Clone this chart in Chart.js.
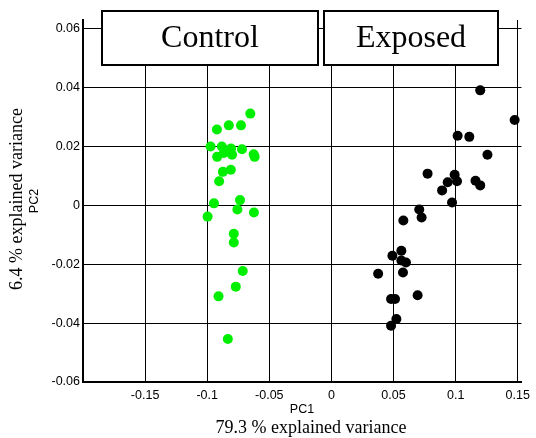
<!DOCTYPE html>
<html>
<head>
<meta charset="utf-8">
<script src="https://cdn.jsdelivr.net/npm/chart.js@4/dist/chart.umd.min.js"></script>
<style>
  html, body { margin: 0; padding: 0; background: #ffffff; }
  #wrap { width: 536px; height: 438px; }
</style>
</head>
<body>
<div id="wrap"><canvas id="pcaplot"></canvas></div>
<script>
// scores (PC1, PC2)
const controlPC1 = [-0.0653, -0.0922, -0.0826, -0.0728, -0.0973, -0.0882, -0.0808, -0.0720,
  -0.0920, -0.0866, -0.0800, -0.0626, -0.0618, -0.0874, -0.0810, -0.0904, -0.0946, -0.0736,
  -0.0757, -0.0624, -0.0997, -0.0786, -0.0786, -0.0714, -0.0770, -0.0909, -0.0834];
const controlPC2 = [0.0312, 0.0258, 0.0272, 0.0272, 0.0200, 0.0200, 0.0193, 0.0191,
  0.0165, 0.0178, 0.0172, 0.0174, 0.0165, 0.0114, 0.0121, 0.0082, 0.0007, 0.0018,
  -0.0014, -0.0024, -0.0038, -0.0096, -0.0126, -0.0223, -0.0276, -0.0309, -0.0454];

const exposedPC1 = [0.1198, 0.1475, 0.1016, 0.1110, 0.1256, 0.0774, 0.0992, 0.1011, 0.0936,
  0.1160, 0.1198, 0.0891, 0.0971, 0.0707, 0.0726, 0.0579, 0.0563, 0.0491, 0.0563, 0.0600,
  0.0376, 0.0576, 0.0694, 0.0480, 0.0512, 0.0523, 0.0480];
const exposedPC2 = [0.0391, 0.0290, 0.0237, 0.0233, 0.0172, 0.0108, 0.0104, 0.0082, 0.0079,
  0.0084, 0.0068, 0.0051, 0.0010, -0.0014, -0.0041, -0.0051, -0.0154, -0.0171, -0.0187, -0.0194,
  -0.0232, -0.0228, -0.0305, -0.0318, -0.0318, -0.0386, -0.0409];

const xTicks = [-0.15, -0.1, -0.05, 0, 0.05, 0.1, 0.15];
const yTicks = [-0.06, -0.04, -0.02, 0, 0.02, 0.04, 0.06];
const groupNames = ["Control", "Exposed"];

function toPoints(xs, ys) {
  return xs.map((x, i) => ({ x: x, y: ys[i] }));
}

// axis titles and the two group boxes on top
const decorations = {
  id: "decorations",
  afterDraw(chart) {
    const ctx = chart.ctx;
    ctx.save();
    ctx.fillStyle = "#000";
    ctx.textAlign = "center";
    ctx.textBaseline = "middle";

    ctx.font = "12.5px 'Liberation Sans', Arial, sans-serif";
    ctx.fillText("PC1", 302, 410);
    ctx.font = "18px 'Liberation Serif', 'Times New Roman', serif";
    ctx.fillText("79.3 % explained variance", 311, 428);

    ctx.save();
    ctx.translate(35, 201);
    ctx.rotate(-Math.PI / 2);
    ctx.font = "12.5px 'Liberation Sans', Arial, sans-serif";
    ctx.fillText("PC2", 0, 0);
    ctx.restore();

    ctx.save();
    ctx.translate(17, 199);
    ctx.rotate(-Math.PI / 2);
    ctx.font = "18px 'Liberation Serif', 'Times New Roman', serif";
    ctx.fillText("6.4 % explained variance", 0, 0);
    ctx.restore();

    // group boxes
    const boxes = [
      { left: 102, right: 318, text: groupNames[0] },
      { left: 324, right: 498, text: groupNames[1] },
    ];
    ctx.font = "32px 'Liberation Serif', 'Times New Roman', serif";
    ctx.lineWidth = 2;
    ctx.strokeStyle = "#000";
    boxes.forEach((b) => {
      ctx.fillStyle = "#fff";
      ctx.fillRect(b.left, 11, b.right - b.left, 54);
      ctx.strokeRect(b.left, 11, b.right - b.left, 54);
      ctx.fillStyle = "#000";
      ctx.fillText(b.text, (b.left + b.right) / 2, 39);
    });
    ctx.restore();
  },
};

const tickFont = { family: "'Liberation Sans', Arial, sans-serif", size: 12.5 };

let config = {
  type: "scatter",
  data: {
    datasets: [
      {
        label: groupNames[0],
        data: toPoints(controlPC1, controlPC2),
        backgroundColor: "#00ee00",
        borderWidth: 0,
        pointRadius: 5,
      },
      {
        label: groupNames[1],
        data: toPoints(exposedPC1, exposedPC2),
        backgroundColor: "#000000",
        borderWidth: 0,
        pointRadius: 5,
      },
    ],
  },
  options: {
    responsive: true,
    maintainAspectRatio: false,
    animation: false,
    layout: { padding: { top: 20, right: 10, left: 0, bottom: 0 } },
    plugins: {
      legend: { display: false },
      tooltip: { enabled: false },
    },
    scales: {
      x: {
        type: "linear",
        min: -0.2,
        max: 0.153,
        afterBuildTicks: (axis) => { axis.ticks = xTicks.map((v) => ({ value: v })); },
        afterFit: (axis) => { axis.height = 56; },
        grid: { color: "#000", lineWidth: 1, drawTicks: false },
        border: { display: true, color: "#000", width: 2 },
        ticks: {
          color: "#000",
          font: tickFont,
          padding: 6,
          maxRotation: 0,
          callback: (v) => String(v),
        },
      },
      y: {
        type: "linear",
        min: -0.06,
        max: 0.063,
        afterBuildTicks: (axis) => { axis.ticks = yTicks.map((v) => ({ value: v })); },
        afterFit: (axis) => { axis.width = 83; },
        grid: { color: "#000", lineWidth: 1, drawTicks: false },
        border: { display: true, color: "#000", width: 2 },
        ticks: {
          color: "#000",
          font: tickFont,
          padding: 3,
          callback: (v) => String(v),
        },
      },
    },
  },
  plugins: [decorations],
};

let pcaChart = new Chart(document.getElementById("pcaplot"), config);
</script>
</body>
</html>
